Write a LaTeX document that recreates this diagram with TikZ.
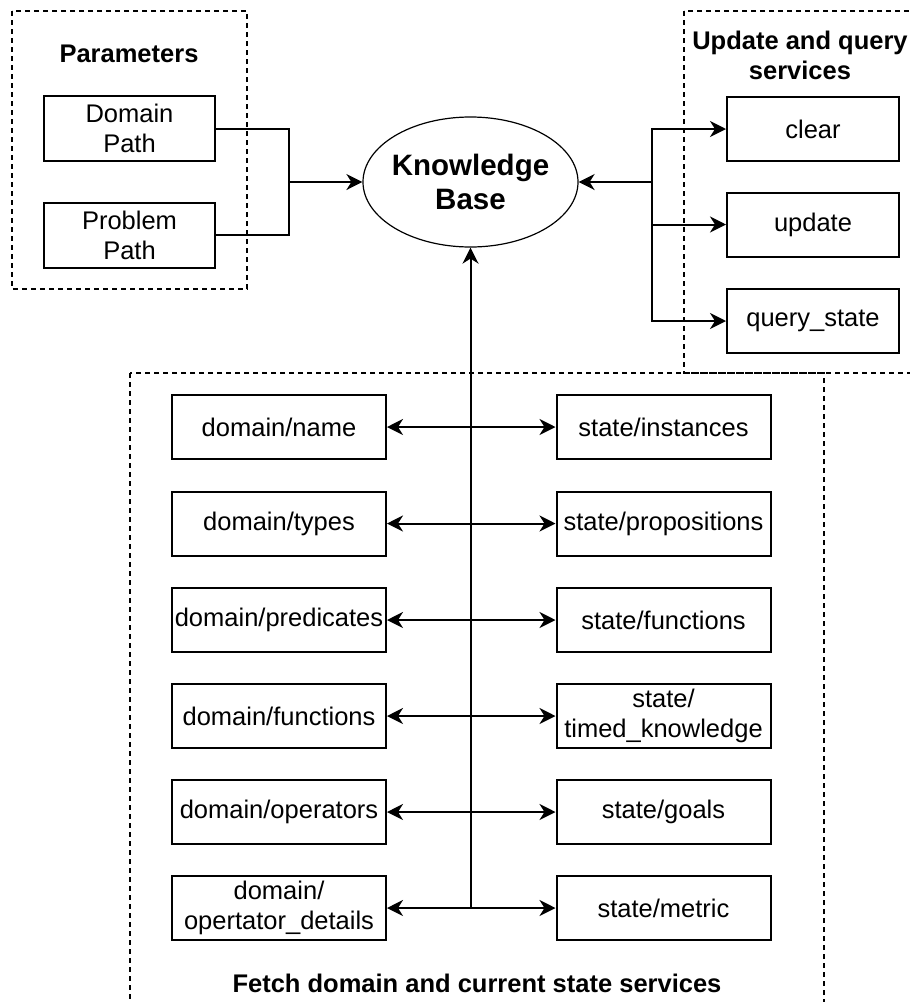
\documentclass[tikz,border=0pt]{standalone}
\usepackage{fontspec}
\setmainfont{Liberation Sans}
\usetikzlibrary{arrows.meta,shapes.geometric}

\tikzset{
  box/.style={draw, line width=2pt, minimum width=214pt, minimum height=64pt,
    inner sep=0pt, align=center, font=\fontsize{25.5}{30}\selectfont},
  svcbox/.style={box, minimum width=172pt},
  parbox/.style={box, minimum width=171pt, minimum height=65pt},
  group/.style={draw, line width=1.4pt, dash pattern=on 5pt off 4pt},
  title/.style={align=center, font=\fontsize{25.5}{30}\selectfont\bfseries},
  link/.style={line width=2pt},
  arr/.style={link, -{Stealth[length=16pt,width=16pt,inset=5pt]}},
  biarr/.style={link, {Stealth[length=16pt,width=16pt,inset=5pt]}-{Stealth[length=16pt,width=16pt,inset=5pt]}},
}

\begin{document}
\begin{tikzpicture}[x=1pt, y=-1pt]
  \useasboundingbox (0,0) rectangle (910,1002);
  \clip (0,0) rectangle (910,1002);

  % dashed groups
  \draw[group] (12,11) rectangle (247,289);
  \draw[group] (684,11) rectangle (916,373);
  \draw[group] (130,373) rectangle (824,1012);

  % group titles
  \node[title] (tpar) at (129,54) {Parameters};
  \node[title] (tsvc) at (800,55) {Update and query\\services};
  \node[title] (tfetch) at (477,983) {Fetch domain and current state services};

  % knowledge base (negative x-sep so the ellipse keeps its set width)
  \node[draw, ellipse, line width=1.2pt, minimum width=215pt, minimum height=130pt,
        inner xsep=-25pt, inner ysep=0pt, align=center,
        font=\fontsize{29.5}{34}\selectfont\bfseries]
        (kb) at (470.5,182) {Knowledge\\Base};

  % parameters
  \node[parbox] (dp) at (129.5,128.5) {Domain\\Path};
  \node[parbox] (pp) at (129.5,235) {Problem\\Path};

  % update and query services
  \node[svcbox] (clear)  at (813,129)   {clear};
  \node[svcbox] (update) at (813,224.5) {update};
  \node[svcbox] (qs)     at (813,321)   {query\_state};

  % domain services
  \node[box] (dname)  at (279,427)   {domain/name};
  \node[box] (dtypes) at (279,523.5) {domain/types};
  \node[box] (dpred)  at (279,620)   {domain/predicates};
  \node[box] (dfun)   at (279,716)   {domain/functions};
  \node[box] (dops)   at (279,812)   {domain/operators};
  \node[box] (ddet)   at (279,908)   {domain/\\opertator\_details};

  % state services
  \node[box] (sinst)  at (663.5,427)   {state/instances};
  \node[box] (sprop)  at (663.5,523.5) {state/propositions};
  \node[box] (sfun)   at (663.5,620)   {state/functions};
  \node[box] (stk)    at (663.5,716)   {state/\\timed\_knowledge};
  \node[box] (sgoal)  at (663.5,812)   {state/goals};
  \node[box] (smet)   at (663.5,908)   {state/metric};

  % junctions
  \coordinate (jl) at (289,182);
  \coordinate (jr) at (652,182);
  \coordinate (jb) at (kb.south |- ddet.east);

  % parameters into the knowledge base
  \draw[link] (dp.east) -| (jl);
  \draw[link] (pp.east) -| (jl);
  \draw[arr] (jl) -- (kb.west);

  % update and query services
  \draw[arr] (jr) -- (kb.east);
  \draw[arr] (jr) |- (clear.west);
  \draw[arr] (jr) |- (update.west);
  \draw[arr] (jr) |- (qs.west);

  % fetch services bus
  \draw[arr] (jb) -- (kb.south);
  \draw[biarr] (dname.east)  -- (sinst.west);
  \draw[biarr] (dtypes.east) -- (sprop.west);
  \draw[biarr] (dpred.east)  -- (sfun.west);
  \draw[biarr] (dfun.east)   -- (stk.west);
  \draw[biarr] (dops.east)   -- (sgoal.west);
  \draw[biarr] (ddet.east)   -- (smet.west);
\end{tikzpicture}
\end{document}
